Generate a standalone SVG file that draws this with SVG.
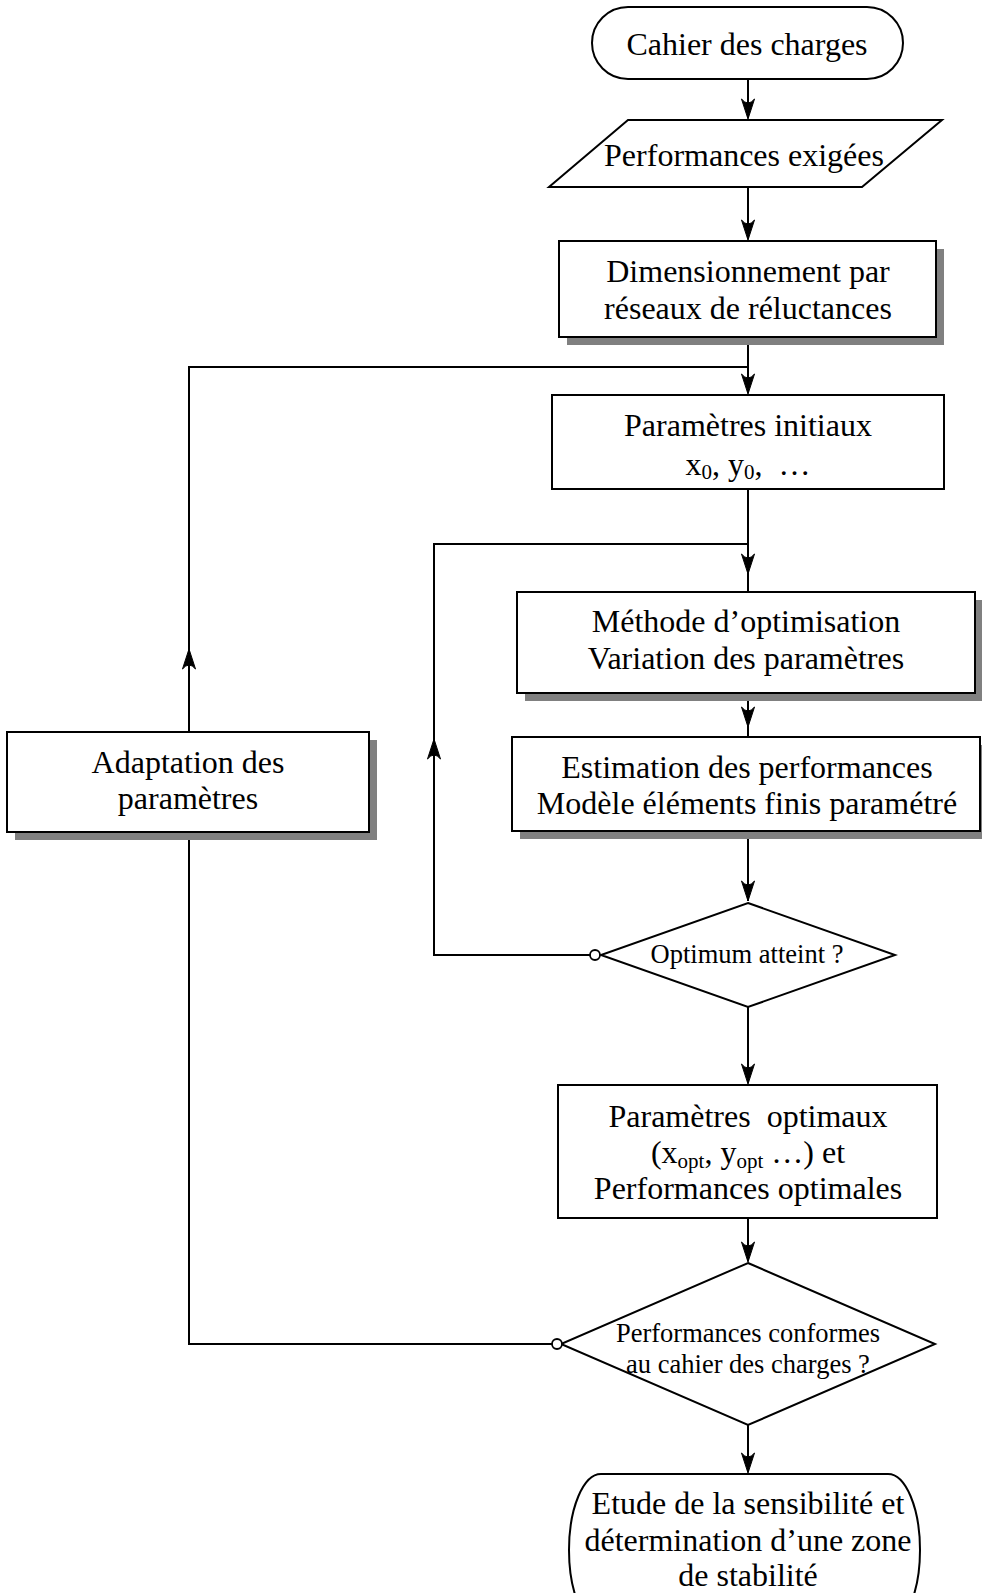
<svg xmlns="http://www.w3.org/2000/svg" width="982" height="1593" viewBox="0 0 982 1593">
<style>
.shape{fill:#fff;stroke:#000;stroke-width:2}
.shadow{fill:#808080}
.t{font-family:"Liberation Serif","Times New Roman",serif;font-size:32px;fill:#000;text-anchor:middle}
.s{font-size:26.5px}
.sub{font-size:21px}
.conn{fill:none;stroke:#000;stroke-width:2}
.dot{fill:#fff;stroke:#000;stroke-width:1.8}
</style>
<defs>
<path id="ah" d="M0,0 L-6.5,-20 Q0,-12 6.5,-20 Z" fill="#000" stroke="#000" stroke-width="1" stroke-linejoin="miter"/>
</defs>
<rect width="982" height="1593" fill="#fff"/>
<g id="connectors">
<path class="conn" d="M748,79 V118"/>
<path class="conn" d="M748,187 V239"/>
<path class="conn" d="M748,337 V393"/>
<path class="conn" d="M748,489 V592"/>
<path class="conn" d="M748,693 V737"/>
<path class="conn" d="M748,831 V901"/>
<path class="conn" d="M748,1007 V1083"/>
<path class="conn" d="M748,1218 V1261"/>
<path class="conn" d="M748,1425 V1472"/>
<path class="conn" d="M590,955 H434 V544 H748"/>
<path class="conn" d="M552,1344 H189 V832"/>
<path class="conn" d="M189,732 V367 H748"/>
<use href="#ah" transform="translate(748,119)"/>
<use href="#ah" transform="translate(748,240)"/>
<use href="#ah" transform="translate(748,394)"/>
<use href="#ah" transform="translate(748,574)"/>
<use href="#ah" transform="translate(748,727)"/>
<use href="#ah" transform="translate(748,901)"/>
<use href="#ah" transform="translate(748,1084)"/>
<use href="#ah" transform="translate(748,1262)"/>
<use href="#ah" transform="translate(748,1473)"/>
<use href="#ah" transform="translate(434,739) rotate(180)"/>
<use href="#ah" transform="translate(189,649) rotate(180)"/>
</g>
<g id="n-cahier">
<rect class="shape" x="592" y="7" width="311" height="72" rx="36" ry="36"/>
<text class="t" x="747" y="55">Cahier des charges</text>
</g>
<g id="n-perf-exigees">
<polygon class="shape" points="628,120 942,120 862,187 549,187"/>
<text class="t" x="744" y="166">Performances exigées</text>
</g>
<g id="n-dimensionnement">
<rect class="shadow" x="567" y="249" width="377" height="96"/>
<rect class="shape" x="559" y="241" width="377" height="96"/>
<text class="t" x="748" y="282">Dimensionnement par</text>
<text class="t" x="748" y="319">réseaux de réluctances</text>
</g>
<g id="n-param-init">
<rect class="shape" x="552" y="395" width="392" height="94"/>
<text class="t" x="748" y="436">Paramètres initiaux</text>
<text class="t" x="748" y="475">x<tspan class="sub" dy="4">0</tspan><tspan dy="-4">, y</tspan><tspan class="sub" dy="4">0</tspan><tspan dy="-4">,&#160; …</tspan></text>
</g>
<g id="n-methode">
<rect class="shadow" x="525" y="600" width="458" height="101"/>
<rect class="shape" x="517" y="592" width="458" height="101"/>
<text class="t" x="746" y="632">Méthode d’optimisation</text>
<text class="t" x="746" y="669">Variation des paramètres</text>
</g>
<g id="n-estimation">
<rect class="shadow" x="520" y="745" width="468" height="94"/>
<rect class="shape" x="512" y="737" width="468" height="94"/>
<text class="t" x="747" y="778">Estimation des performances</text>
<text class="t" x="747" y="814">Modèle éléments finis paramétré</text>
</g>
<g id="n-optimum">
<polygon class="shape" points="748,903 895,955 748,1007 601,955"/>
<text class="t s" x="747" y="963">Optimum atteint ?</text>
<circle class="dot" cx="595" cy="955" r="5"/>
</g>
<g id="n-param-opt">
<rect class="shape" x="558" y="1085" width="379" height="133"/>
<text class="t" x="748" y="1127">Paramètres&#160; optimaux</text>
<text class="t" x="748" y="1163">(x<tspan class="sub" dy="5">opt</tspan><tspan dy="-5">, y</tspan><tspan class="sub" dy="5">opt</tspan><tspan dy="-5"> …) et</tspan></text>
<text class="t" x="748" y="1199">Performances optimales</text>
</g>
<g id="n-conformes">
<polygon class="shape" points="748,1263 935,1344 748,1425 561,1344"/>
<text class="t s" x="748" y="1342">Performances conformes</text>
<text class="t s" x="748" y="1373">au cahier des charges ?</text>
<circle class="dot" cx="557" cy="1344" r="5"/>
</g>
<g id="n-adaptation">
<rect class="shadow" x="15" y="740" width="362" height="100"/>
<rect class="shape" x="7" y="732" width="362" height="100"/>
<text class="t" x="188" y="773">Adaptation des</text>
<text class="t" x="188" y="809">paramètres</text>
</g>
<g id="n-etude">
<rect class="shape" x="569" y="1474" width="351" height="152" rx="32" ry="76"/>
<text class="t" x="748" y="1514">Etude de la sensibilité et</text>
<text class="t" x="748" y="1551">détermination d’une zone</text>
<text class="t" x="748" y="1586">de stabilité</text>
</g>
</svg>
